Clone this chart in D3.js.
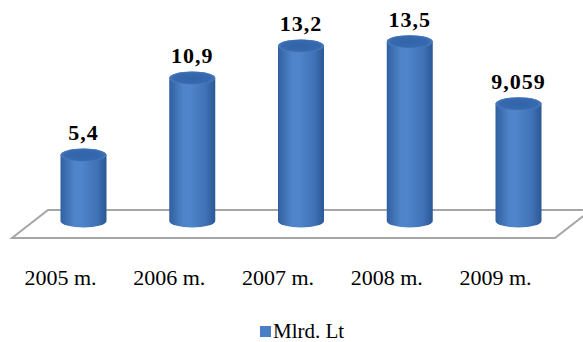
<!DOCTYPE html>
<html>
<head>
<meta charset="utf-8">
<script src="https://cdn.jsdelivr.net/npm/d3@7"></script>
<style>
  html, body { margin: 0; padding: 0; background: #fff; }
  svg { display: block; }
  text { font-family: "Liberation Serif", "Times New Roman", serif; }
</style>
</head>
<body>
<script>
// Annual amounts, billions of litas
const years = ["2005 m.", "2006 m.", "2007 m.", "2008 m.", "2009 m."];
const values = [5.4, 10.9, 13.2, 13.5, 9.059];
const seriesName = "Mlrd. Lt";

const W = 583, H = 342;
const svg = d3.select("body").append("svg").attr("width", W).attr("height", H);

// Horizontal placement of the cylinders
const x = d3.scalePoint().domain(years).range([83.5, 518.5]);
// Height of each cylinder's top surface
const y = d3.scaleLinear().domain([0, 15]).range([230.7, 20.7]);

const rx = 23, ry = 6.5;
const baseY = 221;          // centre of the cylinders' bottom ellipse

const defs = svg.append("defs");
const sideGrad = defs.append("linearGradient").attr("id", "cylSide")
  .attr("x1", "0%").attr("x2", "100%").attr("y1", "0%").attr("y2", "0%");
[[0, "#30609f"], [0.3, "#4f84ca"], [0.45, "#5085cb"], [0.8, "#3f71b5"], [1, "#2b5795"]]
  .forEach(([o, c]) => sideGrad.append("stop").attr("offset", o).attr("stop-color", c));
const capGrad = defs.append("radialGradient").attr("id", "cylCap")
  .attr("cx", "50%").attr("cy", "50%").attr("r", "55%");
[[0, "#3163a8"], [0.75, "#3769b0"], [1, "#5887c8"]]
  .forEach(([o, c]) => capGrad.append("stop").attr("offset", o).attr("stop-color", c));

// Floor of the 3D plot area
const floor = [[12, 238], [555, 238], [591, 210], [48, 210]];
svg.append("path")
  .attr("d", d3.line()(floor) + "Z")
  .attr("fill", "#fff")
  .attr("stroke", "#a6a6a6")
  .attr("stroke-width", 2);

// Cylinders
const g = svg.append("g").selectAll("g").data(values).join("g");
g.append("path")
  .attr("d", (d, i) => {
    const cx = x(years[i]), yt = y(d);
    return `M${cx - rx},${yt} L${cx - rx},${baseY} ` +
      `A${rx},${ry} 0 0 0 ${cx + rx},${baseY} L${cx + rx},${yt} ` +
      `A${rx},${ry} 0 0 0 ${cx - rx},${yt} Z`;
  })
  .attr("fill", "url(#cylSide)");
g.append("ellipse")
  .attr("cx", (d, i) => x(years[i]))
  .attr("cy", d => y(d))
  .attr("rx", rx).attr("ry", ry)
  .attr("fill", "url(#cylCap)");

// Value labels
g.append("text")
  .attr("x", (d, i) => x(years[i]))
  .attr("y", d => y(d) - 15)
  .attr("text-anchor", "middle")
  .attr("font-weight", "bold")
  .attr("font-size", 22)
  .attr("letter-spacing", 1)
  .attr("fill", "#000")
  .text(d => String(d).replace(".", ","));

// Category labels along the front edge of the floor
svg.append("g").selectAll("text").data(years).join("text")
  .attr("x", d => x(d) - 23)
  .attr("y", 285)
  .attr("text-anchor", "middle")
  .attr("font-size", 22)
  .attr("fill", "#000")
  .text(d => d);

// Legend
const lg = svg.append("g").attr("transform", "translate(260,326)");
lg.append("rect").attr("width", 11).attr("height", 11).attr("fill", "#4a7ec6");
lg.append("text")
  .attr("x", 13).attr("y", 12)
  .attr("font-size", 21)
  .attr("fill", "#000")
  .text(seriesName);
</script>
</body>
</html>
